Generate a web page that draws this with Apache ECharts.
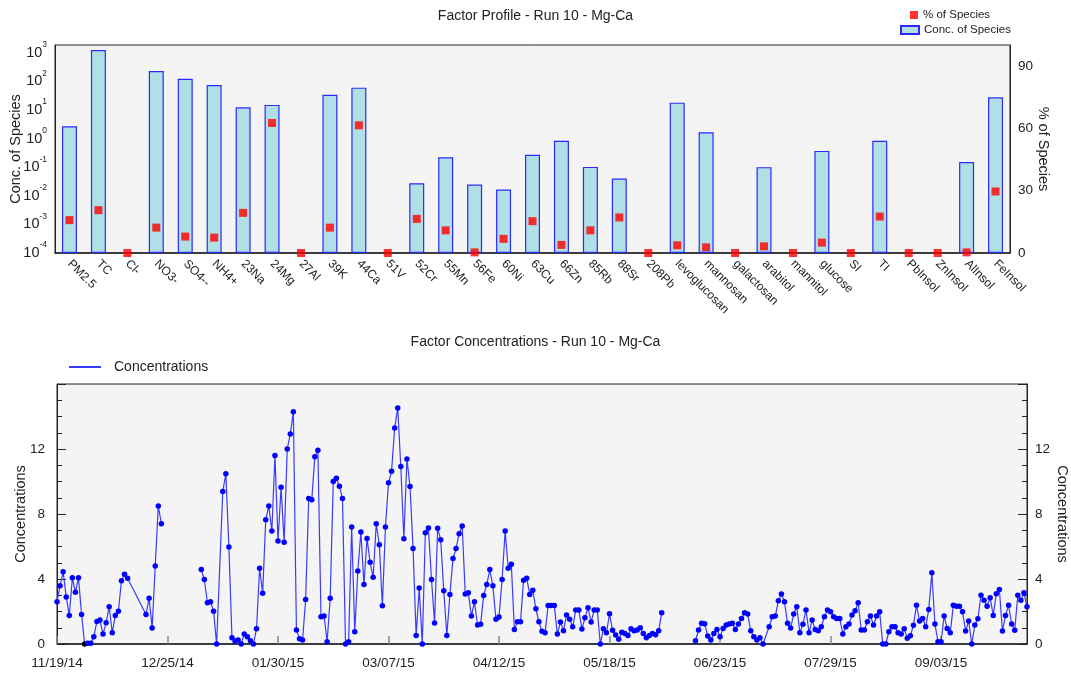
<!DOCTYPE html>
<html>
<head>
<meta charset="utf-8">
<title>Factor Profile - Run 10 - Mg-Ca</title>
<script src="https://cdn.jsdelivr.net/npm/echarts@6.0.0/dist/echarts.min.js"></script>
<style>
  html, body { margin: 0; padding: 0; background: #fff; }
  #chart { width: 1071px; height: 673px; }
</style>
</head>
<body>
<div id="chart"></div>
<script>
// Factor profile (top)
const species = ['PM2.5', 'TC', 'Cl-', 'NO3-', 'SO4--', 'NH4+', '23Na', '24Mg', '27Al', '39K', '44Ca',
  '51V', '52Cr', '55Mn', '56Fe', '60Ni', '63Cu', '66Zn', '85Rb', '88Sr', '208Pb', 'levoglucosan',
  'mannosan', 'galactosan', 'arabitol', 'mannitol', 'glucose', 'SI', 'TI', 'PbInsol', 'ZnInsol',
  'AlInsol', 'FeInsol'];
const concOfSpecies = [2.7, 1240, null, 229, 123, 74, 12.3, 15, null, 34, 60,
  null, 0.0275, 0.22, 0.0247, 0.0165, 0.27, 0.83, 0.102, 0.04, null, 18,
  1.67, null, 0.1, null, 0.37, null, 0.83, null, null,
  0.15, 27.5];
const pctOfSpecies = [15.8, 20.6, 0, 12.2, 7.9, 7.4, 19.3, 62.5, 0, 12.2, 61.4,
  0, 16.4, 10.9, 0.3, 6.8, 15.3, 3.9, 10.9, 17.1, 0, 3.7,
  2.7, 0, 3.2, 0, 5.0, 0, 17.5, 0, 0,
  0.3, 29.6];

// Factor concentrations (bottom): one value per day from 11/19/14, null = no sample
const startDate = [2014, 10, 19];
const dailyConc = [
  2.6, 3.58, 4.44, 2.9, 1.76, 4.07, 3.19, 4.07, 1.82, 0,
  0.05, 0.05, 0.45, 1.39, 1.47, 0.61, 1.31, 2.29, 0.7, 1.76,
  2.02, 3.89, 4.29, 4.05, null, null, null, null, null, 1.82,
  2.82, 0.98, 4.8, 8.49, 7.4, null, null, null, null, null,
  null, null, null, null, null, null, null, 4.58, 3.97, 2.54,
  2.6, 2.02, 0, null, 9.39, 10.47, 5.97, 0.39, 0.18, 0.25,
  0, 0.61, 0.45, 0.2, 0, 0.94, 4.66, 3.13, 7.65, 8.49,
  6.95, 11.6, 6.34, 9.65, 6.26, 12.0, 12.92, 14.29, 0.86, 0.33,
  0.25, 2.74, 8.96, 8.88, 11.53, 11.92, 1.68, 1.72, 0.14, 2.82,
  10.0, 10.2, 9.71, 8.96, 0, 0.14, 7.2, 0.76, 4.5, 6.89,
  3.66, 6.5, 5.03, 4.11, 7.4, 6.11, 2.35, 7.2, 9.92, 10.63,
  13.29, 14.52, 10.92, 6.48, 11.39, 9.69, 5.87, 0.53, 3.44, 0,
  6.85, 7.14, 3.97, 1.29, 7.12, 6.42, 3.27, 0.53, 3.05, 5.26,
  5.87, 6.79, 7.26, 3.07, 3.15, 1.72, 2.6, 1.17, 1.21, 2.99,
  3.66, 4.58, 3.58, 1.53, 1.66, 3.97, 6.95, 4.66, 4.91, 0.9,
  1.37, 1.37, 3.93, 4.05, 3.05, 3.31, 2.17, 1.37, 0.78, 0.7,
  2.37, 2.37, 2.37, 0.61, 1.35, 0.82, 1.78, 1.53, 1.06, 2.09,
  2.09, 0.92, 1.62, 2.23, 1.35, 2.09, 2.09, 0, 0.94, 0.7,
  1.86, 0.84, 0.55, 0.29, 0.72, 0.65, 0.53, 0.94, 0.82, 0.86,
  1.0, 0.65, 0.39, 0.53, 0.65, 0.57, 0.82, 1.92, null, null,
  null, null, null, null, null, null, null, null, 0.2, 0.86,
  1.27, 1.25, 0.49, 0.25, 0.65, 0.9, 0.45, 0.96, 1.17, 1.23,
  1.27, 0.9, 1.23, 1.57, 1.92, 1.84, 0.82, 0.45, 0.25, 0.39,
  0, null, 1.06, 1.68, 1.72, 2.66, 3.07, 2.6, 1.27, 0.98,
  1.84, 2.29, 0.7, 1.21, 2.09, 0.7, 1.47, 0.9, 0.82, 1.06,
  1.68, 2.09, 1.98, 1.68, 1.57, 1.57, 0.61, 1.06, 1.23, 1.78,
  2.04, 2.54, 0.86, 0.86, 1.37, 1.72, 1.17, 1.72, 1.98, 0,
  0, 0.76, 1.06, 1.06, 0.7, 0.61, 0.94, 0.35, 0.51, 1.15,
  2.39, 1.41, 1.57, 1.06, 2.13, 4.38, 1.23, 0.14, 0.14, 1.72,
  0.96, 0.7, 2.39, 2.33, 2.33, 1.98, 0.8, 1.41, 0, 1.17,
  1.55, 3.0, 2.7, 2.33, 2.84, 1.76, 3.09, 3.35, 0.8, 1.76,
  2.39, 1.23, 0.84, 3.0, 2.7, 3.15, 2.29
];
const lineBreakDays = [47, 208];   // line is not joined across these gaps
const belowDetectionDays = [9];    // drawn as a black dot
const dayTickLabels = ['11/19/14', '12/25/14', '01/30/15', '03/07/15', '04/12/15',
  '05/18/15', '06/23/15', '07/29/15', '09/03/15'];

const FONT = 'Liberation Sans, Arial, sans-serif';
const TXT = '#222';

const lineData = [];
dailyConc.forEach(function (v, d) {
  if (lineBreakDays.indexOf(d) >= 0) lineData.push([d - 0.5, '-']);
  if (v === null) return;
  const item = { value: [d, v] };
  if (belowDetectionDays.indexOf(d) >= 0) item.itemStyle = { color: '#000' };
  lineData.push(item);
});

function dayLabel(v) {
  const dt = new Date(startDate[0], startDate[1], startDate[2] + v);
  const mm = String(dt.getMonth() + 1).padStart(2, '0');
  const dd = String(dt.getDate()).padStart(2, '0');
  return mm + '/' + dd + '/' + String(dt.getFullYear()).slice(2);
}

function powLabel(v) {
  const e = Math.round(Math.log10(v));
  return '{b|10}{s|' + e + '}';
}

const chart = echarts.init(document.getElementById('chart'));
chart.setOption({
  animation: false,
  backgroundColor: '#fff',
  textStyle: { fontFamily: FONT, color: TXT },
  title: [
    {
      text: 'Factor Profile - Run 10 - Mg-Ca', left: 'center', top: 9, padding: 0,
      textStyle: { fontSize: 14, fontWeight: 'normal', color: TXT, fontFamily: FONT }
    },
    {
      text: 'Factor Concentrations - Run 10 - Mg-Ca', left: 'center', top: 335, padding: 0,
      textStyle: { fontSize: 14, fontWeight: 'normal', color: TXT, fontFamily: FONT }
    }
  ],
  legend: [
    {
      data: [{ name: '% of Species', icon: 'rect' }],
      left: 910, top: 9, padding: 0, itemWidth: 8, itemHeight: 8,
      textStyle: { fontSize: 11.5, color: TXT, fontFamily: FONT }
    },
    {
      data: [{ name: 'Conc. of Species', icon: 'rect' }],
      left: 900, top: 24, padding: 0, itemWidth: 18, itemHeight: 8,
      textStyle: { fontSize: 11.5, color: TXT, fontFamily: FONT }
    },
    {
      data: ['Concentrations'],
      left: 68, top: 360, padding: 0, itemWidth: 32, itemHeight: 12,
      itemStyle: { opacity: 0 },
      textStyle: { fontSize: 14, color: TXT, fontFamily: FONT, padding: [0, 0, 0, 8] }
    }
  ],
  grid: [
    {
      left: 55, right: 61, top: 45, height: 208, outerBoundsMode: 'none', containLabel: false,
      show: true, backgroundColor: '#f4f4f4', borderColor: '#222', borderWidth: 1
    },
    {
      left: 57, right: 44, top: 384, height: 260, outerBoundsMode: 'none', containLabel: false,
      show: true, backgroundColor: '#f4f4f4', borderColor: '#222', borderWidth: 1
    }
  ],
  xAxis: [
    {
      gridIndex: 0, type: 'category', data: species,
      axisLine: { lineStyle: { color: '#222', width: 1.5 } },
      axisTick: { inside: true, alignWithLabel: true, length: 8, lineStyle: { color: '#222' } },
      axisLabel: { rotate: -45, interval: 0, fontSize: 12, color: TXT, margin: 9, fontFamily: FONT },
      splitLine: { show: false }
    },
    {
      gridIndex: 1, type: 'value', min: 0, max: 316, interval: 36,
      axisLine: { lineStyle: { color: '#222', width: 1.5 } },
      axisTick: { inside: true, length: 8, lineStyle: { color: '#888', width: 1.5 } },
      axisLabel: {
        showMaxLabel: false, fontSize: 13.5, color: TXT, margin: 12, fontFamily: FONT,
        formatter: function (v) { return dayTickLabels[Math.round(v / 36)] || dayLabel(v); }
      },
      splitLine: { show: false }
    }
  ],
  yAxis: [
    {
      gridIndex: 0, type: 'log', logBase: 10, min: 0.0001, max: 1860, startValue: 0.0001, splitNumber: 7,
      name: 'Conc. of Species', nameLocation: 'middle', nameGap: 32, nameMoveOverlap: false,
      nameTextStyle: { fontSize: 14.5, color: TXT, fontFamily: FONT },
      axisLine: { show: true, lineStyle: { color: '#222' } },
      axisTick: { inside: true, length: 8, lineStyle: { color: '#222' } },
      splitLine: { show: false },
      axisLabel: {
        formatter: powLabel, showMaxLabel: false, margin: 8, color: TXT,
        rich: {
          b: { fontSize: 14.5, color: TXT, fontFamily: FONT, padding: [5, 0, 5, 0], verticalAlign: 'bottom' },
          s: { fontSize: 8.5, color: TXT, fontFamily: FONT, verticalAlign: 'top' }
        }
      }
    },
    {
      gridIndex: 0, type: 'value', position: 'right', min: 0, max: 100, interval: 30,
      name: '% of Species', nameLocation: 'middle', nameGap: 25, nameRotate: -90, nameMoveOverlap: false,
      nameTextStyle: { fontSize: 14.5, color: TXT, fontFamily: FONT },
      axisLine: { show: true, lineStyle: { color: '#222' } },
      axisTick: { inside: true, length: 10, lineStyle: { color: '#222' } },
      splitLine: { show: false },
      axisLabel: { showMaxLabel: false, fontSize: 13.5, color: TXT, margin: 8, fontFamily: FONT }
    },
    {
      gridIndex: 0, type: 'value', position: 'right', min: 0, max: 100, interval: 10,
      axisLine: { show: false },
      axisTick: { inside: true, length: 5, lineStyle: { color: '#222' } },
      axisLabel: { show: false },
      splitLine: { show: false }
    },
    {
      gridIndex: 1, type: 'value', min: 0, max: 16, interval: 4,
      name: 'Concentrations', nameLocation: 'middle', nameGap: 29, nameMoveOverlap: false,
      nameTextStyle: { fontSize: 14.5, color: TXT, fontFamily: FONT },
      axisLine: { show: true, lineStyle: { color: '#222' } },
      axisTick: { inside: true, length: 9, lineStyle: { color: '#222' } },
      minorTick: { show: true, splitNumber: 4, length: 5, lineStyle: { color: '#222' } },
      splitLine: { show: false },
      axisLabel: { showMaxLabel: false, fontSize: 13.5, color: TXT, margin: 12, fontFamily: FONT }
    },
    {
      gridIndex: 1, type: 'value', position: 'right', min: 0, max: 16, interval: 4,
      name: 'Concentrations', nameLocation: 'middle', nameGap: 27, nameRotate: -90, nameMoveOverlap: false,
      nameTextStyle: { fontSize: 14.5, color: TXT, fontFamily: FONT },
      axisLine: { show: true, lineStyle: { color: '#222' } },
      axisTick: { inside: true, length: 9, lineStyle: { color: '#222' } },
      minorTick: { show: true, splitNumber: 4, length: 5, lineStyle: { color: '#222' } },
      splitLine: { show: false },
      axisLabel: { showMaxLabel: false, fontSize: 13.5, color: TXT, margin: 8, fontFamily: FONT }
    }
  ],
  series: [
    {
      name: 'Conc. of Species', type: 'bar', xAxisIndex: 0, yAxisIndex: 0,
      data: concOfSpecies, barWidth: 15,
      itemStyle: { color: '#b0e0e6', borderColor: '#2a2aff', borderWidth: 1.2 }
    },
    {
      name: '% of Species', type: 'scatter', xAxisIndex: 0, yAxisIndex: 1,
      data: pctOfSpecies, symbol: 'rect', symbolSize: 8, clip: false, z: 3,
      itemStyle: { color: '#ff0000' }
    },
    {
      name: 'Concentrations', type: 'line', xAxisIndex: 1, yAxisIndex: 3,
      data: lineData, symbol: 'circle', symbolSize: 5.5, showAllSymbol: true, connectNulls: false,
      lineStyle: { color: '#3a3aff', width: 1.2 },
      itemStyle: { color: '#0000ff' }
    }
  ]
});

window.addEventListener('resize', function () {
  chart.resize();
});
</script>
</body>
</html>
